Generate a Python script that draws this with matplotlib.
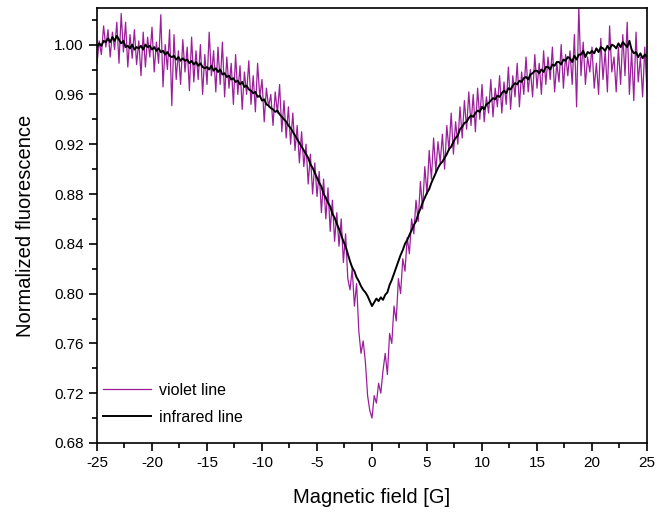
import numpy as np
import matplotlib
matplotlib.use("Agg")
import matplotlib.pyplot as plt
from matplotlib.ticker import MultipleLocator, FormatStrFormatter

# Magnetic field grid: -25 .. 25 G, step 0.2 G
field_start, field_stop = -25.0, 25.0

infrared = [
    0.998, 1.001, 0.999, 1.003, 1.002,
    1.005, 1.002, 1.006, 1.003, 1.007,
    1.004, 1.001, 1.003, 0.998, 0.999,
    0.997, 1.000, 0.996, 0.998, 0.997,
    0.999, 0.996, 1.000, 0.998, 0.999,
    0.996, 0.998, 0.995, 0.997, 0.994,
    0.995, 0.992, 0.994, 0.991, 0.990,
    0.991, 0.988, 0.990, 0.987, 0.989,
    0.987, 0.988, 0.985, 0.987, 0.984,
    0.986, 0.983, 0.985, 0.982, 0.981,
    0.982, 0.980, 0.983, 0.979, 0.981,
    0.978, 0.980, 0.976, 0.977, 0.974,
    0.975, 0.972, 0.973, 0.970, 0.971,
    0.968, 0.970, 0.966, 0.967, 0.964,
    0.963, 0.961, 0.962, 0.958, 0.959,
    0.955, 0.956, 0.952, 0.951, 0.949,
    0.948, 0.946, 0.947, 0.944, 0.942,
    0.940, 0.938, 0.935, 0.933, 0.930,
    0.927, 0.924, 0.921, 0.918, 0.915,
    0.912, 0.909, 0.904, 0.901, 0.897,
    0.893, 0.889, 0.886, 0.880, 0.877,
    0.873, 0.870, 0.864, 0.861, 0.856,
    0.852, 0.847, 0.842, 0.838, 0.832,
    0.826, 0.821, 0.818, 0.813, 0.810,
    0.806, 0.803, 0.801, 0.798, 0.794,
    0.790, 0.793, 0.796, 0.794, 0.797,
    0.795, 0.799, 0.801, 0.807, 0.811,
    0.816, 0.821, 0.826, 0.831, 0.835,
    0.840, 0.843, 0.847, 0.851, 0.855,
    0.858, 0.864, 0.868, 0.873, 0.877,
    0.881, 0.884, 0.889, 0.893, 0.897,
    0.901, 0.904, 0.906, 0.909, 0.912,
    0.916, 0.918, 0.922, 0.925, 0.927,
    0.932, 0.934, 0.937, 0.938, 0.941,
    0.943, 0.942, 0.945, 0.947, 0.946,
    0.950, 0.948, 0.952, 0.953, 0.955,
    0.957, 0.956, 0.959, 0.958, 0.961,
    0.963, 0.961, 0.965, 0.964, 0.967,
    0.969, 0.968, 0.971, 0.970, 0.973,
    0.974, 0.972, 0.976, 0.977, 0.979,
    0.979, 0.977, 0.980, 0.978, 0.982,
    0.982, 0.980, 0.984, 0.983, 0.986,
    0.986, 0.984, 0.988, 0.987, 0.990,
    0.989, 0.986, 0.991, 0.988, 0.992,
    0.992, 0.995, 0.990, 0.994, 0.993,
    0.995, 0.993, 0.997, 0.994, 0.998,
    0.997, 0.995, 0.999, 0.996, 1.000,
    0.999, 0.997, 1.001, 0.998, 1.002,
    1.000, 0.998, 1.003, 0.996, 0.993,
    0.994, 0.990, 0.993, 0.989, 0.992,
    0.990,
]

violet = [
    0.985, 1.003, 0.992, 1.015, 0.998,
    1.012, 0.990, 1.010, 0.996, 1.018,
    0.985, 1.025, 0.994, 1.018, 0.982,
    1.008, 0.989, 1.012, 0.984, 1.003,
    0.975, 1.010, 0.982, 1.006, 0.990,
    1.014, 0.978, 1.002, 0.985, 1.024,
    0.966, 1.000, 0.980, 1.012, 0.951,
    1.008, 0.972, 0.995, 0.968, 1.004,
    0.978, 0.998, 0.963, 1.006, 0.970,
    0.995, 0.972, 1.000, 0.960, 0.992,
    0.968, 1.010, 0.975, 0.995, 0.962,
    0.998, 0.968, 1.002, 0.958, 0.990,
    0.965, 0.985, 0.952, 0.992, 0.960,
    0.983, 0.948, 0.978, 0.960, 0.987,
    0.952, 0.975, 0.946, 0.985, 0.958,
    0.972, 0.938, 0.965, 0.950, 0.960,
    0.935, 0.962, 0.945, 0.968, 0.930,
    0.955, 0.925, 0.950, 0.920, 0.945,
    0.915, 0.935, 0.905, 0.930, 0.902,
    0.920, 0.888, 0.912, 0.880, 0.905,
    0.878, 0.898, 0.865, 0.892, 0.860,
    0.885, 0.850, 0.875, 0.842, 0.865,
    0.838, 0.860, 0.825, 0.848, 0.812,
    0.803, 0.820, 0.790, 0.808, 0.770,
    0.752, 0.762, 0.745, 0.718, 0.706,
    0.700, 0.718, 0.712, 0.728, 0.720,
    0.738, 0.752, 0.735, 0.768, 0.760,
    0.790, 0.778, 0.812, 0.800, 0.828,
    0.818, 0.845, 0.832, 0.860, 0.848,
    0.875, 0.858, 0.890, 0.868, 0.902,
    0.880, 0.915, 0.892, 0.925, 0.898,
    0.922, 0.905, 0.928, 0.900, 0.935,
    0.915, 0.945, 0.912, 0.938, 0.920,
    0.950, 0.925, 0.955, 0.932, 0.962,
    0.935, 0.960, 0.930, 0.965, 0.940,
    0.968, 0.938, 0.958, 0.945, 0.972,
    0.942, 0.965, 0.950, 0.975, 0.945,
    0.970, 0.952, 0.982, 0.948, 0.975,
    0.958, 0.985, 0.950, 0.978, 0.960,
    0.990, 0.962, 0.980, 0.958, 0.992,
    0.965, 0.985, 0.960, 0.995, 0.968,
    0.990, 0.972, 0.998, 0.962, 0.985,
    0.970, 1.000, 0.965, 0.992, 0.975,
    0.995, 0.968, 1.008, 0.950, 1.030,
    0.975, 1.002, 0.968, 0.990, 0.978,
    0.998, 0.965, 0.985, 0.960, 1.005,
    0.972, 0.995, 0.962, 1.015, 0.978,
    0.990, 0.962, 0.998, 0.968, 1.008,
    0.975, 1.018, 0.960, 0.995, 0.955,
    1.010, 0.970, 0.990, 0.958, 0.998,
    0.962,
]

x_ticks = [-25, -20, -15, -10, -5, 0, 5, 10, 15, 20, 25]
y_ticks = [0.68, 0.72, 0.76, 0.80, 0.84, 0.88, 0.92, 0.96, 1.00]

x_violet = np.linspace(field_start, field_stop, len(violet))
x_ir = np.linspace(field_start, field_stop, len(infrared))

plt.rcParams['font.family'] = ['Liberation Sans', 'DejaVu Sans']
plt.rcParams['axes.unicode_minus'] = False

fig = plt.figure(figsize=(6.57, 5.12), dpi=100)
ax = fig.add_axes([97/657, 69/512, 550/657, 435/512])

ax.plot(x_violet, violet, color='#9b1f9b', lw=0.9, label='violet line', zorder=2)
ax.plot(x_ir, infrared, color='black', lw=1.4, label='infrared line', zorder=3)

ax.set_xlim(-25, 25)
ax.set_ylim(0.68, 1.0294)
ax.set_xticks(x_ticks)
ax.set_yticks(y_ticks)
ax.xaxis.set_minor_locator(MultipleLocator(2.5))
ax.yaxis.set_minor_locator(MultipleLocator(0.02))
ax.yaxis.set_major_formatter(FormatStrFormatter('%.2f'))
ax.tick_params(which='both', direction='out', top=False, right=False,
               labelsize=11, width=1.2)
ax.tick_params(which='major', length=6)
ax.tick_params(which='minor', length=3.5)
for s in ax.spines.values():
    s.set_linewidth(1.2)

ax.set_xlabel('Magnetic field [G]', fontsize=14.5, labelpad=13)
ax.set_ylabel('Normalized fluorescence', fontsize=14.5, labelpad=14)

leg = ax.legend(loc='lower left', frameon=False, fontsize=11.5,
                handlelength=3.0, handletextpad=0.5, borderaxespad=0.38,
                borderpad=0.0, labelspacing=0.75,
                bbox_to_anchor=(0.0, 0.028))

fig.savefig('out.png', dpi=100)
